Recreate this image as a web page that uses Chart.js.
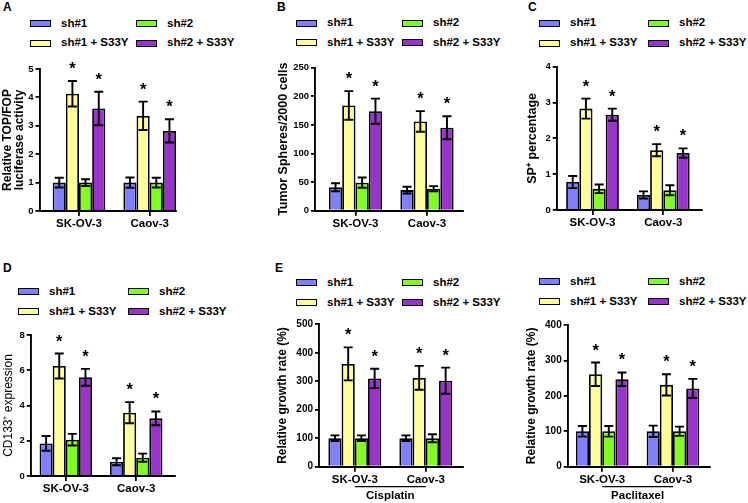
<!DOCTYPE html>
<html><head><meta charset="utf-8">
<script src="https://cdn.jsdelivr.net/npm/chart.js@4.4.1/dist/chart.umd.min.js"></script>
<style>
body{margin:0;background:#fff;}
#root{position:relative;width:748px;height:503px;overflow:hidden;background:#fff;font-family:"Liberation Sans",Arial,sans-serif;color:#000;}
canvas{position:absolute;}
.lt{position:absolute;font-weight:bold;white-space:nowrap;}
.sw{position:absolute;box-sizing:border-box;border:1.5px solid #000;width:21px;height:7px;}
</style></head><body><div id="root"></div>
<script>
// ---------- DATA ----------
const categories = ['SK-OV-3', 'Caov-3'];
const seriesLabels = ['sh#1', 'sh#1 + S33Y', 'sh#2', 'sh#2 + S33Y'];
const starredSeries = [false, true, false, true];

const A_yTicks = [0, 1, 2, 3, 4, 5];
const A_title = ['Relative TOP/FOP', 'luciferase activity'];
const A_means = [[1.0, 1.0], [4.13, 3.35], [1.0, 1.0], [3.61, 2.82]];
const A_errs  = [[0.17, 0.18], [0.45, 0.5], [0.12, 0.17], [0.59, 0.41]];

const B_yTicks = [0, 50, 100, 150, 200, 250];
const B_title = 'Tumor Spheres/2000 cells';
const B_means = [[41, 36], [184, 156], [49, 38.5], [174, 145]];
const B_errs  = [[7, 6], [25, 18], [9, 4.5], [22, 20]];

const C_yTicks = [0, 1, 2, 3, 4];
const C_title = 'SP\u207A percentage';
const C_means = [[0.78, 0.42], [2.83, 1.67], [0.59, 0.55], [2.66, 1.59]];
const C_errs  = [[0.17, 0.1], [0.28, 0.17], [0.12, 0.14], [0.17, 0.13]];

const D_yTicks = [0, 2, 4, 6, 8];
const D_title = 'CD133\u207A expression';
const D_means = [[1.85, 0.81], [6.24, 3.59], [2.06, 1.04], [5.6, 3.27]];
const D_errs  = [[0.42, 0.2], [0.71, 0.6], [0.33, 0.23], [0.48, 0.39]];

const E1_yTicks = [0, 100, 200, 300, 400, 500];
const E1_title = 'Relative growth rate (%)';
const E1_group = 'Cisplatin';
const E1_means = [[100, 100], [361, 312], [100, 100], [310, 302]];
const E1_errs  = [[10, 10], [58, 42], [10, 14], [34, 46]];

const E2_yTicks = [0, 100, 200, 300, 400];
const E2_title = 'Relative growth rate (%)';
const E2_group = 'Paclitaxel';
const E2_means = [[100, 100], [261, 231], [100, 100], [247, 221]];
const E2_errs  = [[15, 16], [33, 30], [15, 13], [19, 27]];

// ---------- STYLE / LAYOUT ----------
const FONT = '"Liberation Sans", Arial, sans-serif';
const seriesColors = ['#7f7fff', '#ffff99', '#80ff20', '#9933cc'];

const panels = [
  {letter:'A', lx:3, lb:10.7, yTicks:A_yTicks, title:A_title, means:A_means, errs:A_errs,
   tf:{size:12, weight:'bold', lineHeight:1.0}, tick:9.5,
   leg:{x1:30, x2:136, y1:23.5, y2:43},
   cl:2, ct:55, cb:240, axisX:39.5, pTop:69, pBot:211, pRight:176, c0:79, c1:149.7},
  {letter:'B', lx:277, lb:10.7, yTicks:B_yTicks, title:B_title, means:B_means, errs:B_errs,
   tf:{size:12.5, weight:'bold', lineHeight:1.2}, tick:9.5,
   leg:{x1:296, x2:402, y1:23, y2:42.5},
   cl:276, ct:55, cb:240, axisX:315, pTop:67.7, pBot:210.7, pRight:463, c0:355.5, c1:427},
  {letter:'C', lx:528, lb:10.7, yTicks:C_yTicks, title:C_title, means:C_means, errs:C_errs,
   tf:{size:12.5, weight:'bold', lineHeight:1.2}, tick:9.5,
   leg:{x1:539, x2:648, y1:23, y2:43},
   cl:525, ct:55, cb:240, axisX:556.7, pTop:66.7, pBot:210, pRight:701.7, c0:592.5, c1:663.3},
  {letter:'D', lx:3, lb:272, yTicks:D_yTicks, title:D_title, means:D_means, errs:D_errs,
   tf:{size:12, weight:'normal', lineHeight:1.2}, tick:9.5,
   leg:{x1:18, x2:128, y1:291.7, y2:311.7},
   cl:1, ct:320, cb:503, axisX:30.7, pTop:335, pBot:476, pRight:175, c0:65.8, c1:136.2},
  {letter:'E', lx:275, lb:272, yTicks:E1_yTicks, title:E1_title, means:E1_means, errs:E1_errs, group:E1_group,
   tf:{size:12, weight:'bold', lineHeight:1.2}, tick:10,
   leg:{x1:296, x2:402, y1:282.7, y2:302.7},
   cl:275, ct:310, cb:503, axisX:319, pTop:324.3, pBot:466.7, pRight:463.3, c0:354.8, c1:425.8},
  {letter:'', lx:0, lb:0, yTicks:E2_yTicks, title:E2_title, means:E2_means, errs:E2_errs, group:E2_group,
   tf:{size:12, weight:'bold', lineHeight:1.2}, tick:10,
   leg:{x1:539, x2:648, y1:281.7, y2:301.7},
   cl:524, ct:310, cb:503, axisX:567.7, pTop:325, pBot:466.7, pRight:710, c0:602.2, c1:673}
];

const root = document.getElementById('root');

function addText(txt, x, baseline, size, weight) {
  const d = document.createElement('div');
  d.className = 'lt';
  d.textContent = txt;
  d.style.fontSize = size + 'px';
  d.style.lineHeight = size + 'px';
  d.style.fontWeight = weight || 'bold';
  d.style.left = x + 'px';
  d.style.top = (baseline - 0.8465 * size) + 'px';
  root.appendChild(d);
}

const errBarPlugin = {
  id: 'errbars',
  afterDatasetsDraw(chart, args, opts) {
    const ctx = chart.ctx, ys = chart.scales.y;
    chart.data.datasets.forEach((ds, di) => {
      const meta = chart.getDatasetMeta(di);
      meta.data.forEach((bar, i) => {
        const v = ds.data[i].y, e = ds.errors[i];
        const yt = ys.getPixelForValue(v + e), yb = ys.getPixelForValue(v - e);
        const x = bar.x, hw = 4.5;
        ctx.save();
        ctx.strokeStyle = '#000'; ctx.lineWidth = 1.9;
        ctx.beginPath();
        ctx.moveTo(x, yt); ctx.lineTo(x, yb);
        ctx.moveTo(x - hw, yt); ctx.lineTo(x + hw, yt);
        ctx.moveTo(x - hw, yb); ctx.lineTo(x + hw, yb);
        ctx.stroke();
        if (ds.star) {
          ctx.fillStyle = '#000';
          ctx.font = 'bold 16.5px ' + FONT;
          ctx.textAlign = 'center'; ctx.textBaseline = 'alphabetic';
          ctx.fillText('*', x, yt - 7);
        }
        ctx.restore();
      });
    });
  },
  afterDraw(chart, args, opts) {
    if (!opts || !opts.group) return;
    const ctx = chart.ctx, xs = chart.scales.x;
    const x0 = xs.getPixelForValue(0), x1 = xs.getPixelForValue(1);
    const y = xs.top + 20;
    ctx.save();
    ctx.strokeStyle = '#000'; ctx.lineWidth = 1.2;
    ctx.beginPath(); ctx.moveTo(x0, y); ctx.lineTo(x1, y); ctx.stroke();
    ctx.fillStyle = '#000';
    ctx.font = 'bold 11.5px ' + FONT;
    ctx.textAlign = 'center'; ctx.textBaseline = 'middle';
    ctx.fillText(opts.group, (x0 + x1) / 2, y + 9.5);
    ctx.restore();
  }
};

panels.forEach(p => {
  if (p.letter) addText(p.letter, p.lx, p.lb, 12, 'bold');
  seriesLabels.forEach((lab, si) => {
    const col = si >= 2 ? 1 : 0, row = si % 2;
    const x = col ? p.leg.x2 : p.leg.x1;
    const y = row ? p.leg.y2 : p.leg.y1;
    const sw = document.createElement('div');
    sw.className = 'sw';
    sw.style.left = x + 'px';
    sw.style.top = (y - 3.5) + 'px';
    sw.style.background = seriesColors[si];
    root.appendChild(sw);
    addText(lab, x + 31, y + 4.1, 11.5, 'bold');
  });

  const W = Math.ceil(p.pRight - p.cl) + 4;
  const H = p.cb - p.ct;
  const cv = document.createElement('canvas');
  cv.width = W; cv.height = H;
  cv.style.left = p.cl + 'px'; cv.style.top = p.ct + 'px';
  cv.style.width = W + 'px'; cv.style.height = H + 'px';
  root.appendChild(cv);

  const spacing = p.c1 - p.c0;
  const xmin = -(p.c0 - p.axisX) / spacing;
  const xmax = 1 + (p.pRight - p.c1) / spacing;
  const yAxisW = p.axisX - p.cl;
  const xAxisH = p.cb - p.pBot;
  const padTop = p.pTop - p.ct;
  const padRight = W - (p.pRight - p.cl);
  const yt = p.yTicks;

  new Chart(cv, {
    type: 'bar',
    data: {
      datasets: seriesLabels.map((lab, si) => ({
        label: lab,
        data: categories.map((c, ci) => ({x: ci, y: p.means[si][ci]})),
        errors: p.errs[si],
        star: starredSeries[si],
        backgroundColor: seriesColors[si],
        borderColor: '#000',
        borderWidth: 1.8,
        categoryPercentage: 0.745,
        barPercentage: 1.0
      }))
    },
    options: {
      responsive: false, maintainAspectRatio: false, animation: false,
      devicePixelRatio: 1,
      layout: {padding: {top: padTop, right: padRight, left: 0, bottom: 0}},
      plugins: {legend: {display: false}, tooltip: {enabled: false}, errbars: {group: p.group || null}},
      scales: {
        x: {
          type: 'linear', min: xmin, max: xmax, offset: false,
          grid: {offset: false, drawOnChartArea: false, drawTicks: true, tickLength: 5, color: '#000', lineWidth: 1.8},
          border: {display: true, color: '#000', width: 1.9},
          afterBuildTicks: s => { s.ticks = categories.map((c, i) => ({value: i})); },
          ticks: {autoSkip: false, maxRotation: 0, minRotation: 0, color: '#000', padding: 1,
                  font: {family: FONT, size: 11.5, weight: 'bold'},
                  callback: v => categories[v] !== undefined ? categories[v] : ''},
          afterFit: s => { s.height = xAxisH; }
        },
        y: {
          min: yt[0], max: yt[yt.length - 1],
          afterBuildTicks: s => { s.ticks = yt.map(v => ({value: v})); },
          ticks: {color: '#000', padding: 2, font: {family: FONT, size: p.tick, weight: 'bold'}},
          grid: {drawOnChartArea: false, drawTicks: true, tickLength: 4, color: '#000', lineWidth: 1.8},
          border: {display: true, color: '#000', width: 1.9},
          title: {display: true, text: p.title, color: '#000', padding: 0,
                  font: {family: FONT, size: p.tf.size, weight: p.tf.weight, lineHeight: p.tf.lineHeight}},
          afterFit: s => { s.width = yAxisW; }
        }
      }
    },
    plugins: [errBarPlugin]
  });
});
</script></body></html>
